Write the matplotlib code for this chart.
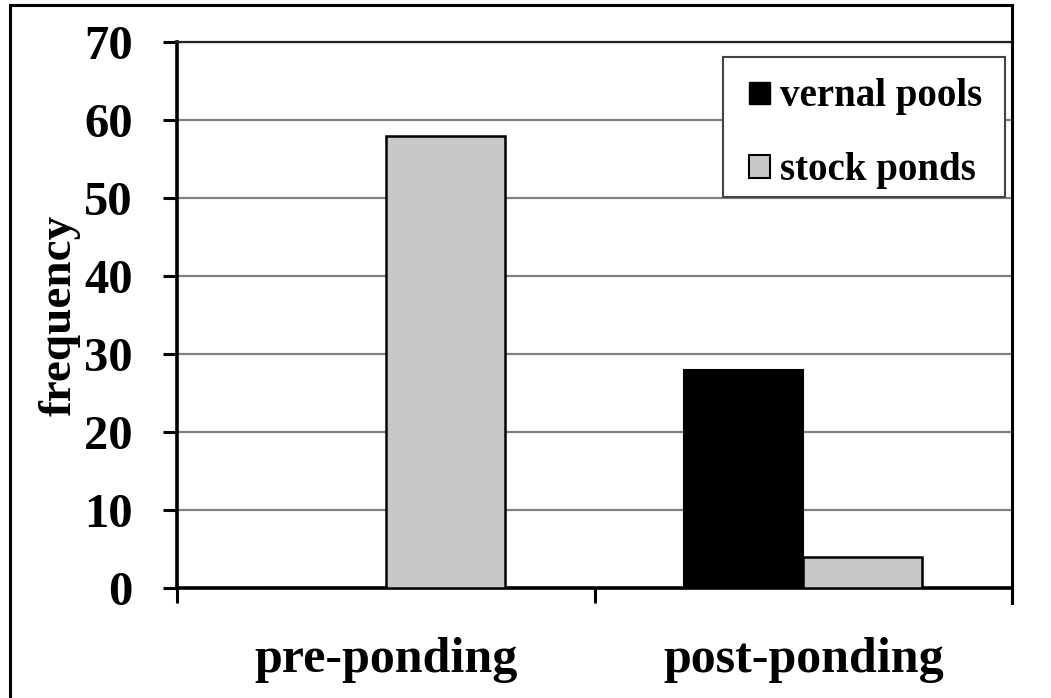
import matplotlib
matplotlib.use("Agg")
import matplotlib.pyplot as plt
import numpy as np
from matplotlib.lines import Line2D
from matplotlib.patches import Patch, Rectangle

categories = ["pre-ponding", "post-ponding"]
vernal_pools = [0, 28]
stock_ponds = [58, 4]
y_ticks = [0, 10, 20, 30, 40, 50, 60, 70]

W, H = 1051, 698
plt.rcParams["font.family"] = ["Liberation Serif", "DejaVu Serif"]
plt.rcParams["font.weight"] = "bold"

fig = plt.figure(figsize=(W / 100, H / 100), dpi=100)
ax = fig.add_axes([177 / W, 1 - 588 / H, (1012 - 177) / W, (588 - 42) / H])

x = np.arange(len(categories)) + 0.5
w = 0.285
ax.bar(x - w / 2, vernal_pools, width=w, color="black", edgecolor="black",
       linewidth=1.5, label="vernal pools", zorder=3)
ax.bar(x + w / 2, stock_ponds, width=w, color="#c8c8c8", edgecolor="black",
       linewidth=1.8, label="stock ponds", zorder=3)

ax.set_xlim(0, 2)
ax.set_ylim(0, 70)
ax.set_yticks(y_ticks)
ax.set_yticklabels([str(v) for v in y_ticks], fontsize=35, fontweight="bold")
ax.yaxis.grid(True, color="#808080", linewidth=1.6, zorder=0)
ax.set_axisbelow(True)

ax.set_xticks(x)
ax.set_xticklabels(categories, fontsize=36, fontweight="bold")
ax.set_xticks([0, 1, 2], minor=True)
ax.tick_params(axis="x", which="major", length=0, pad=35)
ax.tick_params(axis="x", which="minor", length=11, width=2.2, direction="out")
ax.tick_params(axis="y", length=10, width=2.2, direction="out", pad=22)

ax.set_ylabel("frequency", fontsize=34, fontweight="bold")
ax.yaxis.set_label_coords(-0.116, 0.5)

for side in ("left", "bottom"):
    ax.spines[side].set_linewidth(2.6)
ax.spines["right"].set_visible(False)
ax.spines["top"].set_linewidth(1.6)
ax.spines["top"].set_color("#222222")


def fx(px):
    return px / W


def fy(py):
    return 1 - py / H


# legend box and entries
fig.add_artist(Rectangle((fx(723), fy(197)), fx(1005) - fx(723), fy(57) - fy(197),
                         transform=fig.transFigure, facecolor="white",
                         edgecolor="#444444", linewidth=1.5, zorder=4))
handles = [Patch(facecolor="black", edgecolor="black", linewidth=1.0),
           Patch(facecolor="#c8c8c8", edgecolor="black", linewidth=1.5)]
leg = fig.legend(handles, ["vernal pools", "stock ponds"],
                 loc="upper left", bbox_to_anchor=(fx(728), fy(57)),
                 bbox_transform=fig.transFigure,
                 prop={"weight": "bold", "size": 28},
                 frameon=False, handlelength=0.52, handleheight=0.5,
                 handletextpad=0.26, labelspacing=0.95, borderpad=0.55,
                 borderaxespad=0)
leg.set_zorder(5)

# outer frame
frame_kw = dict(color="black", linewidth=2.2, transform=fig.transFigure)
fig.add_artist(Line2D([fx(10), fx(1012)], [fy(5), fy(5)], **frame_kw))
fig.add_artist(Line2D([fx(10), fx(10)], [fy(5), fy(698)], **frame_kw))
fig.add_artist(Line2D([fx(1012), fx(1012)], [fy(5), fy(603)], **frame_kw))

fig.savefig("out.png", dpi=100)
